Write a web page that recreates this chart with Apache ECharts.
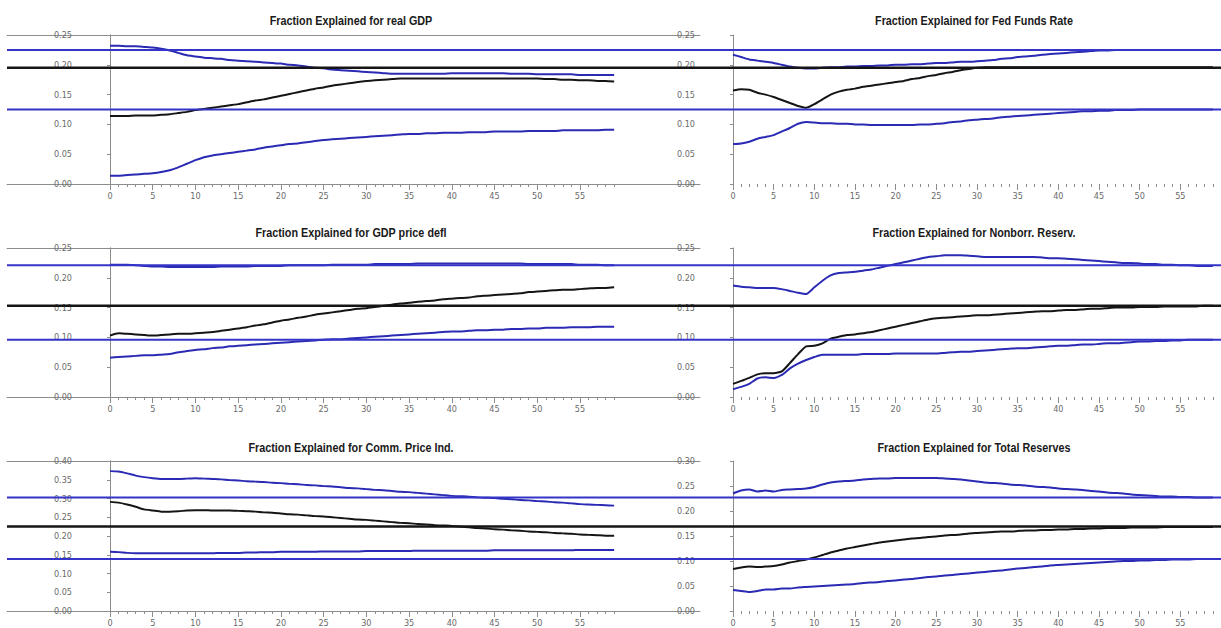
<!DOCTYPE html>
<html>
<head>
<meta charset="utf-8">
<script src="https://cdn.jsdelivr.net/npm/echarts@6/dist/echarts.min.js"></script>
<style>
html,body{margin:0;padding:0;background:#fff;}
#c{width:1221px;height:628px;}
</style>
</head>
<body>
<div id="c"></div>
<script>
// ---------------- DATA ----------------
const horizons = [0,1,2,3,4,5,6,7,8,9,10,11,12,13,14,15,16,17,18,19,20,21,22,23,24,25,26,27,28,29,30,31,32,33,34,35,36,37,38,39,40,41,42,43,44,45,46,47,48,49,50,51,52,53,54,55,56,57,58,59];
const majorTicks = [0,5,10,15,20,25,30,35,40,45,50,55];

const titles = [
  "Fraction Explained for real GDP",
  "Fraction Explained for Fed Funds Rate",
  "Fraction Explained for GDP price defl",
  "Fraction Explained for Nonborr. Reserv.",
  "Fraction Explained for Comm. Price Ind.",
  "Fraction Explained for Total Reserves"
];

// y-axis maxima (tick step 0.05)
const yMaxLeft  = [0.25, 0.25, 0.40];
const yMaxRight = [0.25, 0.25, 0.30];

// real GDP
const gdpUpper  = [.232,.232,.231,.231,.230,.229,.227,.224,.220,.216,.214,.212,.211,.210,.208,.207,.206,.205,.204,.203,.202,.200,.199,.197,.195,.194,.192,.191,.190,.189,.188,.187,.186,.185,.185,.185,.185,.185,.185,.185,.186,.186,.186,.186,.186,.186,.186,.185,.185,.185,.184,.184,.184,.184,.184,.183,.183,.183,.183,.183];
const gdpMedian = [.114,.114,.114,.115,.115,.115,.116,.117,.119,.121,.124,.126,.128,.130,.132,.134,.137,.140,.142,.145,.148,.151,.154,.157,.160,.162,.165,.167,.169,.171,.173,.174,.175,.176,.177,.177,.177,.177,.177,.177,.177,.177,.177,.177,.177,.177,.177,.177,.177,.177,.177,.176,.176,.175,.175,.174,.174,.173,.173,.172];
const gdpLower  = [.014,.014,.015,.016,.017,.018,.020,.023,.028,.034,.040,.045,.048,.050,.052,.054,.056,.058,.061,.063,.065,.067,.068,.070,.072,.074,.075,.076,.077,.078,.079,.080,.081,.082,.083,.084,.084,.085,.085,.086,.086,.086,.087,.087,.087,.088,.088,.088,.088,.089,.089,.089,.089,.090,.090,.090,.090,.090,.091,.091];

// Fed Funds Rate
const ffrUpper  = [.217,.213,.209,.207,.205,.203,.200,.197,.195,.194,.194,.195,.196,.196,.197,.197,.198,.198,.199,.199,.200,.200,.201,.201,.202,.203,.203,.204,.205,.205,.206,.207,.208,.210,.211,.213,.214,.215,.217,.218,.219,.220,.221,.222,.223,.224,.224,.225,.225,.225,.225,.225,.225,.225,.225,.225,.225,.225,.225,.225];
const ffrMedian = [.157,.159,.158,.153,.150,.146,.141,.136,.131,.128,.134,.142,.150,.155,.158,.160,.163,.165,.167,.169,.171,.173,.176,.178,.181,.183,.186,.188,.191,.193,.195,.196,.196,.196,.196,.196,.196,.196,.196,.196,.196,.196,.196,.196,.196,.196,.196,.196,.196,.196,.196,.196,.196,.196,.196,.196,.196,.196,.196,.196];
const ffrLower  = [.067,.068,.071,.076,.079,.082,.088,.094,.101,.104,.103,.102,.102,.101,.101,.100,.100,.099,.099,.099,.099,.099,.099,.100,.100,.101,.102,.104,.105,.107,.108,.109,.110,.112,.113,.114,.115,.116,.117,.118,.119,.120,.121,.122,.122,.123,.123,.124,.124,.124,.125,.125,.125,.125,.125,.125,.125,.125,.125,.125];

// GDP price deflator
const pdefUpper  = [.222,.222,.222,.221,.220,.219,.219,.218,.218,.218,.218,.218,.218,.219,.219,.219,.219,.220,.220,.220,.220,.221,.221,.221,.221,.221,.222,.222,.222,.222,.222,.223,.223,.223,.223,.223,.224,.224,.224,.224,.224,.224,.224,.224,.224,.224,.224,.224,.224,.223,.223,.223,.223,.223,.223,.222,.222,.222,.221,.221];
const pdefMedian = [.103,.107,.106,.105,.104,.103,.104,.105,.106,.106,.107,.108,.109,.111,.113,.115,.117,.120,.122,.125,.128,.130,.133,.135,.138,.140,.142,.144,.146,.148,.149,.151,.153,.155,.157,.158,.160,.161,.162,.164,.165,.166,.167,.169,.170,.171,.172,.173,.174,.176,.177,.178,.179,.180,.180,.181,.182,.183,.183,.184];
const pdefLower  = [.066,.067,.068,.069,.070,.070,.071,.072,.075,.077,.079,.080,.082,.083,.085,.086,.087,.088,.089,.090,.091,.092,.093,.094,.095,.096,.097,.097,.098,.099,.100,.101,.102,.103,.104,.105,.106,.107,.108,.109,.110,.110,.111,.112,.112,.113,.113,.114,.114,.115,.115,.116,.116,.116,.117,.117,.117,.118,.118,.118];

// Nonborrowed reserves
const nbrUpper  = [.187,.185,.184,.183,.183,.183,.181,.178,.175,.173,.184,.195,.204,.208,.209,.210,.212,.214,.217,.220,.223,.226,.229,.232,.235,.236,.238,.238,.238,.237,.236,.235,.235,.235,.235,.235,.235,.235,.234,.233,.233,.232,.231,.230,.229,.228,.227,.226,.225,.225,.224,.223,.223,.222,.222,.221,.221,.220,.220,.220];
const nbrMedian = [.022,.027,.032,.038,.040,.040,.043,.057,.072,.085,.086,.090,.098,.101,.104,.105,.107,.109,.112,.115,.118,.121,.124,.127,.130,.132,.133,.134,.135,.136,.137,.137,.138,.139,.140,.141,.142,.143,.144,.144,.145,.146,.146,.147,.148,.148,.149,.150,.150,.150,.151,.151,.151,.152,.152,.152,.152,.152,.153,.153];
const nbrLower  = [.013,.017,.022,.031,.033,.032,.037,.048,.056,.062,.067,.071,.071,.071,.071,.071,.072,.072,.072,.072,.073,.073,.073,.073,.073,.073,.074,.075,.076,.076,.077,.078,.079,.080,.081,.082,.082,.083,.084,.085,.086,.086,.087,.088,.088,.089,.090,.090,.091,.092,.093,.093,.094,.094,.095,.095,.096,.096,.096,.096];

// Commodity price index
const cpiUpper  = [.373,.372,.367,.361,.357,.354,.352,.352,.352,.353,.354,.353,.352,.351,.349,.348,.346,.345,.344,.342,.341,.339,.338,.336,.335,.333,.332,.330,.328,.327,.325,.323,.322,.320,.318,.317,.315,.313,.311,.309,.307,.306,.305,.303,.302,.301,.299,.298,.296,.295,.293,.292,.290,.289,.287,.285,.284,.283,.282,.281];
const cpiMedian = [.291,.289,.284,.278,.271,.268,.265,.265,.266,.268,.269,.269,.268,.268,.268,.267,.266,.265,.263,.262,.260,.258,.257,.255,.253,.252,.250,.248,.246,.244,.243,.241,.239,.237,.235,.234,.232,.231,.229,.228,.227,.225,.223,.221,.220,.218,.217,.215,.214,.212,.211,.210,.208,.207,.206,.204,.203,.202,.201,.201];
const cpiLower  = [.158,.157,.155,.154,.154,.154,.154,.154,.154,.154,.154,.154,.154,.155,.155,.155,.156,.156,.157,.157,.158,.158,.158,.158,.158,.159,.159,.159,.159,.159,.160,.160,.160,.160,.160,.160,.161,.161,.161,.161,.161,.161,.161,.161,.161,.162,.162,.162,.162,.162,.162,.162,.162,.162,.162,.163,.163,.163,.163,.163];

// Total reserves
const trUpper  = [.235,.241,.243,.239,.241,.239,.242,.243,.244,.245,.248,.253,.257,.259,.260,.261,.263,.264,.265,.265,.266,.266,.266,.266,.266,.266,.265,.264,.263,.261,.259,.257,.256,.255,.253,.252,.251,.249,.248,.247,.245,.244,.243,.242,.240,.239,.237,.236,.235,.233,.232,.231,.230,.229,.229,.228,.228,.227,.227,.227];
const trMedian = [.084,.087,.089,.088,.089,.090,.093,.097,.100,.103,.107,.112,.117,.121,.125,.128,.131,.134,.137,.139,.141,.143,.145,.146,.148,.149,.151,.152,.153,.155,.156,.157,.158,.159,.159,.160,.161,.161,.162,.162,.163,.163,.164,.164,.165,.165,.166,.166,.166,.167,.167,.167,.167,.168,.168,.168,.168,.168,.168,.168];
const trLower  = [.042,.040,.038,.040,.043,.043,.045,.045,.047,.048,.049,.050,.051,.052,.053,.054,.056,.057,.058,.060,.061,.063,.064,.066,.068,.069,.071,.072,.074,.075,.077,.078,.080,.081,.083,.085,.086,.088,.089,.091,.092,.093,.094,.095,.096,.097,.098,.099,.100,.100,.101,.101,.102,.102,.103,.103,.103,.104,.104,.104];

// long-run reference levels (upper, median, lower) per row, on the right-panel scale
const refRow1 = [0.225, 0.195, 0.125];
const refRow2 = [0.221, 0.153, 0.096];
const refRow3 = [0.227, 0.169, 0.104];

// ---------------- LAYOUT / STYLE ----------------
const TFONT = "'Liberation Sans',Arial,sans-serif";
const FONT = "'DejaVu Sans Condensed','Liberation Sans Narrow',sans-serif";
const GREY = '#8c8c8c';
const LABEL = '#6a6a6a';
const BLUE = '#2a2ab4';
const HBLUE = '#3434c8';
const BLACK = '#151515';
const UNIT = 8.545;
const rowTop = [35, 248, 461];
const rowH = [149, 149, 150];
const titleY = [21, 233, 448];

const panels = [
  {row:0, side:'L', title:titles[0], up:gdpUpper,  med:gdpMedian,  lo:gdpLower},
  {row:0, side:'R', title:titles[1], up:ffrUpper,  med:ffrMedian,  lo:ffrLower},
  {row:1, side:'L', title:titles[2], up:pdefUpper, med:pdefMedian, lo:pdefLower},
  {row:1, side:'R', title:titles[3], up:nbrUpper,  med:nbrMedian,  lo:nbrLower},
  {row:2, side:'L', title:titles[4], up:cpiUpper,  med:cpiMedian,  lo:cpiLower},
  {row:2, side:'R', title:titles[5], up:trUpper,   med:trMedian,   lo:trLower}
];
const refs = [refRow1, refRow2, refRow3];

const grid = [], xAxis = [], yAxis = [], series = [], graphic = [];
const pair = arr => horizons.map((h, i) => [h, arr[i]]);
const yLab = {fontSize:9, color:LABEL, fontFamily:FONT, margin:5, formatter: v => v.toFixed(2)};

for (let r = 0; r < 3; r++) {
  // frame: top and bottom rules from x=7 to the right panel's axis
  grid.push({left:7, top:rowTop[r], width:693, height:rowH[r]});
  let g = grid.length - 1;
  ['bottom','top'].forEach(p => xAxis.push({gridIndex:g, type:'value', min:0, max:1, position:p,
    axisLine:{show:true, lineStyle:{color:GREY, width:1}}, axisTick:{show:false}, axisLabel:{show:false}, splitLine:{show:false}}));
  yAxis.push({gridIndex:g, type:'value', min:0, max:1, show:false});
}

panels.forEach(p => {
  const r = p.row;
  const left = p.side === 'L';
  const xmax = left ? 59 : 60;
  const ymax = left ? yMaxLeft[r] : yMaxRight[r];
  grid.push({left: left ? 110 : 733, top: rowTop[r], width: xmax * UNIT, height: rowH[r]});
  const g = grid.length - 1;
  const xi = xAxis.length;
  xAxis.push({gridIndex:g, type:'value', min:0, max:xmax, interval:1, position:'bottom',
    axisLine:{show:false}, axisTick:{show:true, length:3, lineStyle:{color:GREY}},
    axisLabel:{show:false}, splitLine:{show:false}});
  xAxis.push({gridIndex:g, type:'value', min:0, max:xmax, interval:5, position:'bottom',
    axisLine:{show:false},
    axisTick:{show:true, length:6, lineStyle:{color:GREY}, customValues: majorTicks},
    axisLabel:{show:true, fontSize:9, color:LABEL, fontFamily:FONT, margin:7, customValues: majorTicks},
    splitLine:{show:false}});
  const yi = yAxis.length;
  yAxis.push({gridIndex:g, type:'value', min:0, max:ymax, interval:0.05, position:'left', offset:33,
    axisLine:{show:true, lineStyle:{color:GREY}}, axisTick:{show:true, length:3, lineStyle:{color:GREY}},
    axisLabel:yLab, splitLine:{show:false}});
  if (left) {
    yAxis.push({gridIndex:g, type:'value', min:0, max:ymax, position:'right', offset:33,
      axisLine:{show:true, lineStyle:{color:GREY}}, axisTick:{show:false}, axisLabel:{show:false}, splitLine:{show:false}});
  }
  [[p.up, BLUE],[p.med, BLACK],[p.lo, BLUE]].forEach(([arr, col]) => {
    series.push({type:'line', xAxisIndex:xi, yAxisIndex:yi, data:pair(arr), showSymbol:false, symbol:'none',
      smooth:0.2, lineStyle:{color:col, width:2}, itemStyle:{color:col}, silent:true});
  });
  graphic.push({type:'text', x: left ? 351 : 974, y: titleY[r], scaleX:0.8,
    style:{text:p.title, fontFamily:TFONT, fontWeight:'bold', fontSize:13.5, fill:'#1a1a1a', textAlign:'center', textVerticalAlign:'middle'}});
});

// long-run reference lines spanning the whole row
for (let r = 0; r < 3; r++) {
  grid.push({left:7, top:rowTop[r], width:1214, height:rowH[r]});
  const g = grid.length - 1;
  const xi = xAxis.length, yi = yAxis.length;
  xAxis.push({gridIndex:g, type:'value', min:0, max:1, show:false});
  yAxis.push({gridIndex:g, type:'value', min:0, max:yMaxRight[r], show:false});
  refs[r].forEach((v, k) => {
    const col = k === 1 ? BLACK : HBLUE;
    series.push({type:'line', xAxisIndex:xi, yAxisIndex:yi, data:[[0, v],[1, v]], showSymbol:false, symbol:'none',
      lineStyle:{color:col, width: k === 1 ? 2.5 : 2}, silent:true});
  });
}

const chart = echarts.init(document.getElementById('c'), null, {renderer:'svg'});
chart.setOption({
  animation:false,
  backgroundColor:'#fff',
  grid, xAxis, yAxis, series, graphic
});
</script>
</body>
</html>
